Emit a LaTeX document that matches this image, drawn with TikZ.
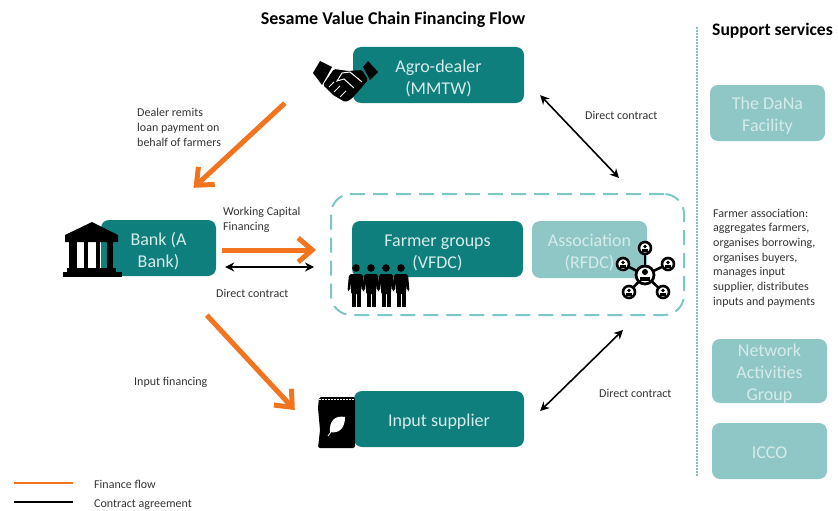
\documentclass[tikz,border=0pt]{standalone}
\usepackage{fontspec}
\setmainfont{Carlito}
\definecolor{BoxTeal}{HTML}{0F7F7E}
\definecolor{PaleTeal}{HTML}{8FC7C7}
\definecolor{DashTeal}{HTML}{7CC8C4}
\definecolor{BoxText}{HTML}{D4EBE9}
\definecolor{FlowOrange}{HTML}{F2741F}
\definecolor{LabelGrey}{HTML}{333333}
\usetikzlibrary{arrows.meta, positioning}
\newcommand{\boxlift}{\rule{0pt}{18.5pt}}
\tikzset{
  % Box styles
  tealbox/.style={rectangle, rounded corners=8pt, fill=BoxTeal, text=BoxText, font=\fontsize{18}{22}\selectfont, align=center},
  palebox/.style={rectangle, rounded corners=8pt, fill=PaleTeal, text=BoxText, font=\fontsize{18}{22}\selectfont, align=center},
  groupbox/.style={rectangle, rounded corners=20pt, draw=DashTeal, line width=2pt, dash pattern=on 15pt off 8pt},
  % Text styles
  flowlabel/.style={text=LabelGrey, font=\fontsize{12}{15}\selectfont, align=left, inner sep=0pt, anchor=west},
  headlabel/.style={text=black, font=\fontsize{18}{20}\selectfont\bfseries, inner sep=0pt},
  % Arrow styles
  financearrow/.style={-{Straight Barb[length=14pt,width=24pt,line width=5pt]}, line width=5pt, FlowOrange},
  contractarrow/.style={{Stealth[length=9pt,width=9pt]}-{Stealth[length=9pt,width=9pt]}, line width=1.6pt, black},
  legendline/.style={line width=2.2pt}
}
\begin{document}
\begin{tikzpicture}[x=1pt,y=-1pt]
  \useasboundingbox (0,0) rectangle (838,511);

  % Titles
  \node[headlabel] (title) at (393,20) {Sesame Value Chain Financing Flow};
  \node[headlabel, anchor=west, font=\fontsize{17.6}{20}\selectfont\bfseries] (support) at (712,31) {Support services};
  \draw[BoxTeal, line width=1.8pt, line cap=round, dash pattern=on 0pt off 3pt] (697,28) -- (697,476);

  % Chain boxes
  \node[tealbox, minimum width=171pt, minimum height=56pt] (agro) at (438.5,75) {\boxlift Agro-dealer\\(MMTW)};
  \node[tealbox, minimum width=115pt, minimum height=56pt] (bank) at (158.5,248) {\boxlift Bank (A\\Bank)};
  \node[tealbox, minimum width=171pt, minimum height=56pt] (farmer) at (437.5,249) {\boxlift Farmer groups\\(VFDC)};
  \node[palebox, minimum width=115pt, minimum height=57pt] (assoc) at (589.5,249.5) {\boxlift Association\\(RFDC)};
  \node[tealbox, minimum width=170pt, minimum height=56pt] (input) at (439,419) {\boxlift Input supplier};
  \node[groupbox, minimum width=353pt, minimum height=121pt] (group) at (507.5,254.5) {};

  % Support boxes
  \node[palebox, minimum width=115pt, minimum height=56pt] (dana) at (767.5,113) {\boxlift The DaNa\\Facility};
  \node[palebox, minimum width=115pt, minimum height=64pt, inner ysep=-4pt] (network) at (769.5,371) {\boxlift Network\\Activities\\Group};
  \node[palebox, minimum width=115pt, minimum height=56pt] (icco) at (769.5,451) {\rule{0pt}{15.5pt}ICCO};

  % Handshake
  \fill (320,61) -- (332,67) -- (322,85) -- (313,73) -- cycle;
  \fill (368,61) -- (378,72) -- (370,80) -- (363,67) -- cycle;
  \fill[rounded corners=1.5pt] (334,69) -- (348,71) -- (362,70) -- (368,80) -- (356,94) -- (350,100) -- (345,102) -- (333,95) -- (323,85) -- cycle;
  \draw[white, line width=1pt] (362,82) -- (350,72) -- (342,73) -- (337,81) -- (344,79) -- (354,88);
  \draw[white, line width=1pt] (329,87) -- (334,82) (334,92) -- (340,86) (340,97) -- (346,91);

  % Bank building
  \fill (65,235) -- (92,222) -- (118,235) -- (118,242) -- (65,242) -- cycle;
  \foreach \colx/\colw in {69/8, 84/4, 96/4, 107/6} {
    \fill (\colx,242) rectangle ++(\colw,26);
  }
  \fill (67,268) rectangle (116,272);
  \fill (63,272) rectangle (122,277);

  % Farmers
  \foreach \manx in {356,371,386,401} {
    \fill (\manx,268) circle (3.8pt);
    \fill[rounded corners=2pt] (\manx-8.5,291) -- (\manx-7,274) -- (\manx+7,274) -- (\manx+8.5,291) -- (\manx+6,291) -- (\manx+5,282) -- (\manx+5,294) -- (\manx-5,294) -- (\manx-5,282) -- (\manx-6,291) -- cycle;
    \fill (\manx-4.5,292) rectangle (\manx-0.5,307);
    \fill (\manx+0.5,292) rectangle (\manx+4.5,307);
  }

  % Member network
  \coordinate (hub) at (645,275);
  \foreach \nx/\ny in {645/248, 623/264, 668/264, 629/292, 663/292} {
    \draw[line width=2.6pt] (hub) -- (\nx,\ny);
  }
  \foreach \nx/\ny in {645/248, 623/264, 668/264, 629/292, 663/292} {
    \draw[line width=2.6pt, fill=white] (\nx,\ny) circle (6pt);
    \fill (\nx,\ny-1.5) circle (1.8pt);
    \fill (\nx-3,\ny+3.5) rectangle (\nx+3,\ny+1);
  }
  \draw[line width=2.8pt, fill=white] (hub) circle (9pt);
  \fill (645,272) circle (3pt);
  \fill (640,281) rectangle (650,276.5);

  % Seed bag
  \fill[rounded corners=2pt] (319,397) -- (355,397) -- (355,448) -- (318,448) -- (320,430) -- (318,408) -- cycle;
  \draw[white, line width=0.6pt, dash pattern=on 1.5pt off 1.5pt] (319,399) -- (354,399);
  \fill[white] (345,417) .. controls (335,415) and (329,421) .. (330,432) .. controls (339,434) and (345,428) .. (345,417) -- cycle;
  \draw[white, line width=0.8pt] (328,436) -- (333,429);

  % Finance flows
  \draw[financearrow] ([shift={(-68,0)}]agro.south west) -- ([shift={(35,-32)}]bank.north);
  \draw[financearrow] ([shift={(6,2)}]bank.east) -- ([shift={(-14,-4.5)}]group.west);
  \draw[financearrow] ([shift={(106,39)}]bank.south west) -- ([shift={(-59,-9)}]input.west);

  % Contract arrows
  \draw[contractarrow] ([shift={(16,-8)}]agro.south east) -- ([shift={(289,-15)}]group.north west);
  \draw[contractarrow] ([shift={(9,19)}]bank.east) -- ([shift={(-16,12.5)}]group.west);
  \draw[contractarrow] ([shift={(-62,14)}]group.south east) -- ([shift={(16,-8)}]input.east);

  % Labels
  \node[flowlabel] (remits) at (137,127) {Dealer remits\\loan payment on\\behalf of farmers};
  \node[flowlabel] (working) at (223,219.5) {Working Capital\\Financing};
  \node[flowlabel] (contractb) at (216,293) {Direct contract};
  \node[flowlabel] (inputfin) at (134,382) {Input financing};
  \node[flowlabel] (contracta) at (585,115) {Direct contract};
  \node[flowlabel] (contracti) at (599,393) {Direct contract};
  \node[flowlabel, font=\fontsize{12}{14.7}\selectfont] (assocnote) at (713,258) {Farmer association:\\aggregates farmers,\\organises borrowing,\\organises buyers,\\manages input\\supplier, distributes\\inputs and payments};

  % Legend
  \coordinate (financeA) at (14,483);
  \coordinate (financeB) at (73,483);
  \coordinate (contractA) at (14,502);
  \coordinate (contractB) at (73,502);
  \draw[legendline, FlowOrange] (financeA) -- (financeB);
  \draw[legendline, black] (contractA) -- (contractB);
  \node[flowlabel] (financekey) at (94,484) {Finance flow};
  \node[flowlabel] (contractkey) at (94,504.5) {Contract agreement};
\end{tikzpicture}
\end{document}
